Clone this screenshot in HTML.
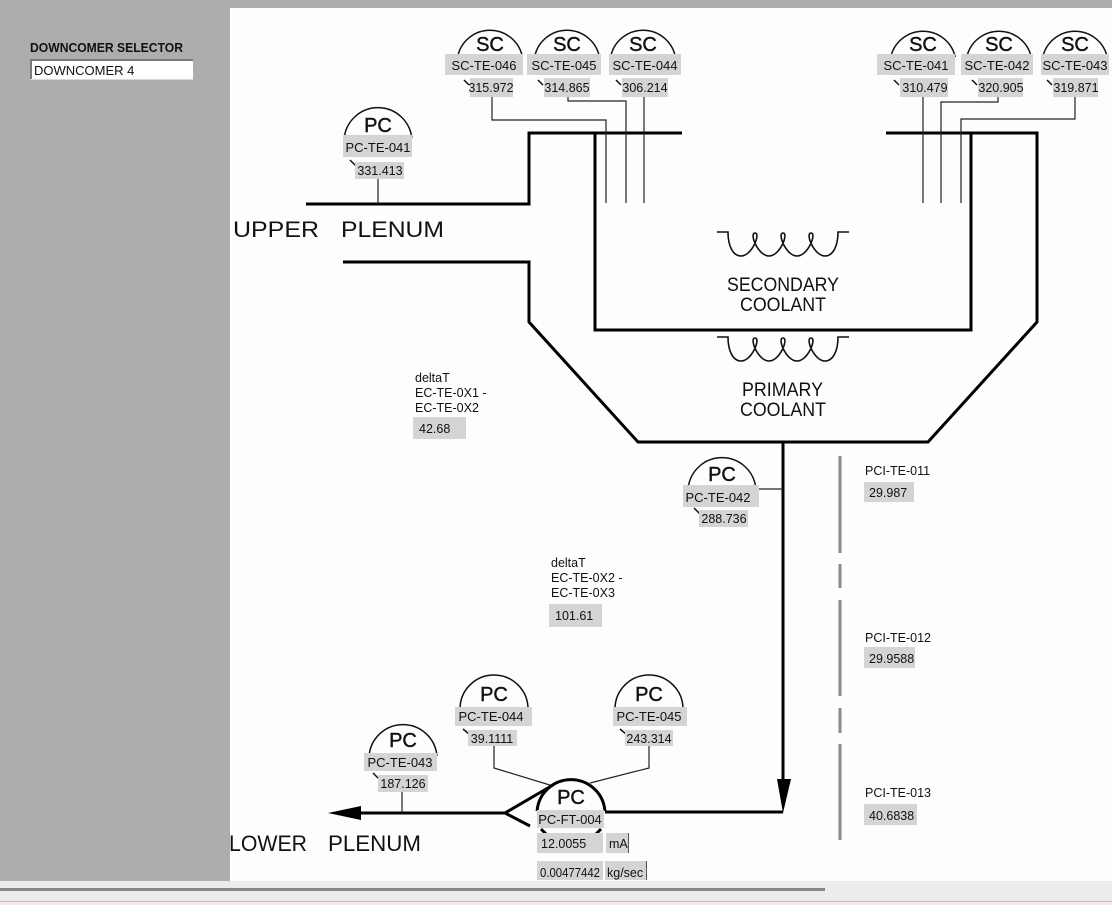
<!DOCTYPE html>
<html><head><meta charset="utf-8"><style>
html,body{margin:0;padding:0;background:#fff;}
body{width:1112px;height:905px;overflow:hidden;}
svg{display:block;}
text{font-family:"Liberation Sans",Arial,sans-serif;fill:#111;}
.lb{fill:#d4d4d4;}
.th{stroke:#000;stroke-width:3;fill:none;}
.tn{stroke:#222;stroke-width:1.2;fill:none;}
.ci{stroke:#111;stroke-width:1.5;fill:none;}
.tk{stroke:#111;stroke-width:1.5;fill:none;}
.big{font-size:20px;stroke:#111;stroke-width:0.4;}
.lt{font-size:13px;}
.vt{font-size:12.5px;}
.st{font-size:12.5px;}
</style></head><body>
<svg width="1112" height="905" viewBox="0 0 1112 905" xmlns="http://www.w3.org/2000/svg">
<!-- backgrounds -->
<rect x="0" y="0" width="1112" height="905" fill="#fdfdfd"/>
<rect x="0" y="0" width="1112" height="8" fill="#adadad"/>
<rect x="0" y="0" width="230" height="881" fill="#adadad"/>
<rect x="0" y="881" width="1112" height="21" fill="#ececec"/>
<rect x="0" y="888" width="825" height="3" fill="#878787"/>
<rect x="0" y="901" width="1112" height="1" fill="#c9b9b9"/>
<rect x="0" y="902" width="1112" height="3" fill="#f6e8e8"/>

<!-- left panel -->
<text x="30" y="52" font-size="13px" font-weight="bold" textLength="153" lengthAdjust="spacingAndGlyphs">DOWNCOMER SELECTOR</text>
<rect x="30" y="59" width="163" height="21" fill="#fff"/>
<rect x="30" y="59" width="163" height="2" fill="#7a7a7a"/>
<rect x="30" y="59" width="2" height="21" fill="#7a7a7a"/>
<rect x="30" y="79" width="163" height="1" fill="#d8d8d8"/>
<text x="34" y="75" font-size="13px">DOWNCOMER 4</text>

<!-- heat exchanger structure -->
<path class="th" d="M306,204 H529 V133 H682"/>
<path class="th" d="M886,133 H1037 V322 L928,442 H638 L529,322 V262 H343"/>
<path class="th" d="M595,133 V330 H971 V133"/>

<!-- coils -->
<path stroke="#111" stroke-width="1.6" fill="none" d="M717,232 H728 C728,246 733,256 741,256 C752,256 761,233 755,233 C749,233 758,256 769,256 C780,256 789,233 783,233 C777,233 786,256 797,256 C808,256 817,233 811,233 C805,233 814,256 825,256 C833,256 838,246 838,232 H849"/>
<path stroke="#111" stroke-width="1.6" fill="none" d="M717,337 H728 C728,351 733,361 741,361 C752,361 761,338 755,338 C749,338 758,361 769,361 C780,361 789,338 783,338 C777,338 786,361 797,361 C808,361 817,338 811,338 C805,338 814,361 825,361 C833,361 838,351 838,337 H849"/>

<text x="727" y="291" font-size="19px" textLength="112" lengthAdjust="spacingAndGlyphs">SECONDARY</text>
<text x="740" y="311" font-size="19px" textLength="86" lengthAdjust="spacingAndGlyphs">COOLANT</text>
<text x="742" y="396" font-size="19px" textLength="81" lengthAdjust="spacingAndGlyphs">PRIMARY</text>
<text x="740" y="416" font-size="19px" textLength="86" lengthAdjust="spacingAndGlyphs">COOLANT</text>

<text x="233" y="237" font-size="22.5px" textLength="86" lengthAdjust="spacingAndGlyphs">UPPER</text>
<text x="341" y="237" font-size="22.5px" textLength="103" lengthAdjust="spacingAndGlyphs">PLENUM</text>
<text x="229" y="851" font-size="22.5px" textLength="78" lengthAdjust="spacingAndGlyphs">LOWER</text>
<text x="328" y="851" font-size="22.5px" textLength="93" lengthAdjust="spacingAndGlyphs">PLENUM</text>

<!-- main pipe and return -->
<path class="th" d="M783,442 V785"/>
<polygon points="777,779 791,779 783,813" fill="#000"/>
<path class="th" d="M783,812 H605"/>
<path class="th" d="M505,813 H358"/>
<polygon points="328,813 361,806 361,820" fill="#000"/>
<path class="th" d="M553,785 L505,813 L530,826"/>

<!-- SC connector lines -->
<path class="tn" d="M492,97 V120 H606 V203"/>
<path class="tn" d="M568,97 V101 H626 V203"/>
<path class="tn" d="M644,97 V203"/>
<path class="tn" d="M923,97 V203"/>
<path class="tn" d="M998,97 V102 H941 V203"/>
<path class="tn" d="M1075,97 V119 H961 V203"/>
<!-- PC connectors -->
<path class="tn" d="M378,178 V204"/>
<path class="tn" d="M759,489 H783"/>
<path class="tn" d="M402,792 V813"/>
<path class="tn" d="M494,746 V768 L553,786"/>
<path class="tn" d="M649,746 V768 L590,783"/>

<!-- PCI dashed gauge line -->
<g stroke="#8a8a8a" stroke-width="3">
<line x1="840" y1="456" x2="840" y2="553"/>
<line x1="840" y1="564" x2="840" y2="588"/>
<line x1="840" y1="600" x2="840" y2="696"/>
<line x1="840" y1="708" x2="840" y2="733"/>
<line x1="840" y1="744" x2="840" y2="840"/>
</g>

<!-- bubble arcs -->
<path class="ci" d="M457.6,57 A33,33 0 0 1 522.4,57"/>
<path class="ci" d="M534.6,57 A33,33 0 0 1 599.4,57"/>
<path class="ci" d="M610.6,57 A33,33 0 0 1 675.4,57"/>
<path class="ci" d="M890.8,57 A33,33 0 0 1 955.2,57"/>
<path class="ci" d="M966.8,57 A33,33 0 0 1 1031.2,57"/>
<path class="ci" d="M1042.8,57 A33,33 0 0 1 1107.2,57"/>
<path class="ci" d="M344.2,138 A34,34 0 0 1 411.8,138"/>
<path class="ci" d="M688.2,488 A34,34 0 0 1 755.8,488"/>
<path class="ci" d="M369.1,756 A34,34 0 0 1 436.9,756"/>
<path class="ci" d="M460,709 A34,34 0 0 1 528,709"/>
<path class="ci" d="M615,709 A34,34 0 0 1 683,709"/>
<!-- ticks -->
<path class="tk" d="M464,80 L469,85 M538,80 L543,85 M616,80 L621,85 M894,80 L899,85 M972,80 L977,85 M1047,80 L1052,85 M350,160 L356,166 M694,508 L700,514 M373,773 L379,779 M463,729 L469,734 M620,729 L626,734"/>

<!-- SC bubbles left group -->
<text class="big" x="490" y="51" text-anchor="middle">SC</text>
<text class="big" x="567" y="51" text-anchor="middle">SC</text>
<text class="big" x="643" y="51" text-anchor="middle">SC</text>
<rect class="lb" x="445" y="54" width="78" height="21"/>
<rect class="lb" x="527" y="54" width="74" height="21"/>
<rect class="lb" x="609" y="54" width="72" height="21"/>
<text class="lt" x="484" y="70" text-anchor="middle">SC-TE-046</text>
<text class="lt" x="564" y="70" text-anchor="middle">SC-TE-045</text>
<text class="lt" x="645" y="70" text-anchor="middle">SC-TE-044</text>
<rect class="lb" x="470" y="78" width="43" height="19"/>
<rect class="lb" x="544" y="78" width="46" height="19"/>
<rect class="lb" x="622" y="78" width="46" height="19"/>
<text class="vt" x="491" y="92" text-anchor="middle">315.972</text>
<text class="vt" x="567" y="92" text-anchor="middle">314.865</text>
<text class="vt" x="645" y="92" text-anchor="middle">306.214</text>

<!-- SC bubbles right group -->
<text class="big" x="923" y="51" text-anchor="middle">SC</text>
<text class="big" x="999" y="51" text-anchor="middle">SC</text>
<text class="big" x="1075" y="51" text-anchor="middle">SC</text>
<rect class="lb" x="877" y="54" width="78" height="21"/>
<rect class="lb" x="961" y="54" width="72" height="21"/>
<rect class="lb" x="1041" y="54" width="68" height="21"/>
<text class="lt" x="916" y="70" text-anchor="middle">SC-TE-041</text>
<text class="lt" x="997" y="70" text-anchor="middle">SC-TE-042</text>
<text class="lt" x="1075" y="70" text-anchor="middle">SC-TE-043</text>
<rect class="lb" x="900" y="78" width="48" height="19"/>
<rect class="lb" x="978" y="78" width="45" height="19"/>
<rect class="lb" x="1053" y="78" width="45" height="19"/>
<text class="vt" x="925" y="92" text-anchor="middle">310.479</text>
<text class="vt" x="1001" y="92" text-anchor="middle">320.905</text>
<text class="vt" x="1076" y="92" text-anchor="middle">319.871</text>

<!-- PC-TE-041 -->
<text class="big" x="378" y="132" text-anchor="middle">PC</text>
<rect class="lb" x="343" y="135" width="69" height="22"/>
<text class="lt" x="378" y="152" text-anchor="middle">PC-TE-041</text>
<rect class="lb" x="355" y="162" width="49" height="17"/>
<text class="vt" x="380" y="175" text-anchor="middle">331.413</text>

<!-- PC-TE-042 -->
<text class="big" x="722" y="481" text-anchor="middle">PC</text>
<rect class="lb" x="683" y="485" width="76" height="22"/>
<text class="lt" x="718" y="502" text-anchor="middle">PC-TE-042</text>
<rect class="lb" x="699" y="510" width="49" height="17"/>
<text class="vt" x="724" y="523" text-anchor="middle">288.736</text>

<!-- PC-TE-043 -->
<text class="big" x="403" y="747" text-anchor="middle">PC</text>
<rect class="lb" x="364" y="753" width="73" height="18"/>
<text class="lt" x="400" y="767" text-anchor="middle">PC-TE-043</text>
<rect class="lb" x="378" y="775" width="50" height="17"/>
<text class="vt" x="403" y="788" text-anchor="middle">187.126</text>

<!-- PC-TE-044 -->
<text class="big" x="494" y="701" text-anchor="middle">PC</text>
<rect class="lb" x="455" y="707" width="77" height="19"/>
<text class="lt" x="491" y="721" text-anchor="middle">PC-TE-044</text>
<rect class="lb" x="468" y="730" width="49" height="16"/>
<text class="vt" x="492" y="743" text-anchor="middle">39.1111</text>

<!-- PC-TE-045 -->
<text class="big" x="649" y="701" text-anchor="middle">PC</text>
<rect class="lb" x="613" y="707" width="74" height="19"/>
<text class="lt" x="649" y="721" text-anchor="middle">PC-TE-045</text>
<rect class="lb" x="625" y="730" width="48" height="16"/>
<text class="vt" x="649" y="743" text-anchor="middle">243.314</text>

<!-- Pump PC-FT-004 -->
<path d="M537.1,811 A34,34 0 0 1 604.9,811" stroke="#000" stroke-width="3" fill="none"/>
<path d="M541,829 L546,834 M601,829 L596,834" stroke="#000" stroke-width="3" fill="none"/>
<text class="big" x="571" y="804" text-anchor="middle">PC</text>
<rect class="lb" x="537" y="810" width="67" height="18"/>
<text class="lt" x="570" y="824" text-anchor="middle">PC-FT-004</text>
<rect class="lb" x="537" y="833" width="66" height="20"/>
<text class="vt" x="541" y="848">12.0055</text>
<rect class="lb" x="606" y="833" width="23" height="20"/>
<rect x="628" y="833" width="1" height="20" fill="#555"/>
<text class="vt" x="609" y="848">mA</text>
<rect class="lb" x="537" y="861" width="66" height="19"/>
<text class="vt" x="540" y="877" textLength="60" lengthAdjust="spacingAndGlyphs">0.00477442</text>
<rect class="lb" x="605" y="861" width="42" height="19"/>
<rect x="646" y="861" width="1" height="19" fill="#555"/>
<text class="vt" x="607" y="877">kg/sec</text>

<!-- deltaT -->
<text class="st" x="415" y="382">deltaT</text>
<text class="st" x="415" y="397">EC-TE-0X1 -</text>
<text class="st" x="415" y="412">EC-TE-0X2</text>
<rect class="lb" x="413" y="417" width="53" height="22"/>
<text class="vt" x="419" y="433">42.68</text>

<text class="st" x="551" y="567">deltaT</text>
<text class="st" x="551" y="582">EC-TE-0X2 -</text>
<text class="st" x="551" y="597">EC-TE-0X3</text>
<rect class="lb" x="549" y="604" width="53" height="23"/>
<text class="vt" x="555" y="620">101.61</text>

<!-- PCI -->
<text class="st" x="865" y="475">PCI-TE-011</text>
<rect class="lb" x="864" y="482" width="50" height="20"/>
<text class="vt" x="869" y="497">29.987</text>
<text class="st" x="865" y="642">PCI-TE-012</text>
<rect class="lb" x="864" y="647" width="51" height="21"/>
<text class="vt" x="869" y="663">29.9588</text>
<text class="st" x="865" y="797">PCI-TE-013</text>
<rect class="lb" x="864" y="804" width="53" height="21"/>
<text class="vt" x="869" y="820">40.6838</text>
</svg>
</body></html>
